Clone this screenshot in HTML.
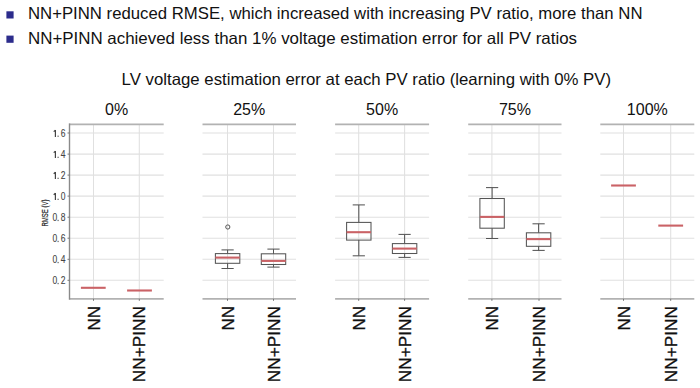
<!DOCTYPE html><html><head><meta charset="utf-8"><style>html,body{margin:0;padding:0;background:#fff;overflow:hidden}svg{display:block}</style></head><body><svg width="700" height="388" viewBox="0 0 700 388">
<rect width="700" height="388" fill="#fff"/>
<rect x="6.4" y="11.3" width="7.2" height="7.2" fill="#2c2c8c"/>
<rect x="6.4" y="35.6" width="7.2" height="7.2" fill="#2c2c8c"/>
<text x="28" y="19.3" font-family="Liberation Sans, sans-serif" font-size="16.5" textLength="614.5" lengthAdjust="spacingAndGlyphs" fill="#111">NN+PINN reduced RMSE, which increased with increasing PV ratio, more than NN</text>
<text x="28" y="43.6" font-family="Liberation Sans, sans-serif" font-size="16.5" textLength="549" lengthAdjust="spacingAndGlyphs" fill="#111">NN+PINN achieved less than 1% voltage estimation error for all PV ratios</text>
<text x="121.6" y="84.7" font-family="Liberation Sans, sans-serif" font-size="16.5" textLength="489.5" lengthAdjust="spacingAndGlyphs" fill="#111">LV voltage estimation error at each PV ratio (learning with 0% PV)</text>
<text x="116.6" y="115" font-family="Liberation Sans, sans-serif" font-size="16" text-anchor="middle" fill="#111">0%</text>
<line x1="69.5" y1="280.3" x2="163.7" y2="280.3" stroke="#e0e0e0" stroke-width="1.05"/>
<line x1="69.5" y1="259.3" x2="163.7" y2="259.3" stroke="#e0e0e0" stroke-width="1.05"/>
<line x1="69.5" y1="238.2" x2="163.7" y2="238.2" stroke="#e0e0e0" stroke-width="1.05"/>
<line x1="69.5" y1="217.2" x2="163.7" y2="217.2" stroke="#e0e0e0" stroke-width="1.05"/>
<line x1="69.5" y1="196.1" x2="163.7" y2="196.1" stroke="#e0e0e0" stroke-width="1.05"/>
<line x1="69.5" y1="175.1" x2="163.7" y2="175.1" stroke="#e0e0e0" stroke-width="1.05"/>
<line x1="69.5" y1="154.1" x2="163.7" y2="154.1" stroke="#e0e0e0" stroke-width="1.05"/>
<line x1="69.5" y1="133.0" x2="163.7" y2="133.0" stroke="#e0e0e0" stroke-width="1.05"/>
<line x1="93.5" y1="124.3" x2="93.5" y2="298.8" stroke="#e0e0e0" stroke-width="1.05"/>
<line x1="139.3" y1="124.3" x2="139.3" y2="298.8" stroke="#e0e0e0" stroke-width="1.05"/>
<line x1="69.5" y1="124.3" x2="163.7" y2="124.3" stroke="#b2b2b2" stroke-width="1.8"/>
<line x1="69.5" y1="298.8" x2="163.7" y2="298.8" stroke="#b2b2b2" stroke-width="1.8"/>
<line x1="93.5" y1="298.8" x2="93.5" y2="300.8" stroke="#777" stroke-width="1"/>
<line x1="139.3" y1="298.8" x2="139.3" y2="300.8" stroke="#777" stroke-width="1"/>
<text transform="translate(99.5,306) rotate(-90)" x="0" y="0" font-family="Liberation Sans, sans-serif" font-size="16.5" text-anchor="end" textLength="24.6" lengthAdjust="spacingAndGlyphs" fill="#111" stroke="#111" stroke-width="0.3">NN</text>
<text transform="translate(145.3,306) rotate(-90)" x="0" y="0" font-family="Liberation Sans, sans-serif" font-size="16.5" text-anchor="end" textLength="76.2" lengthAdjust="spacingAndGlyphs" fill="#111" stroke="#111" stroke-width="0.3">NN+PINN</text>
<text x="249.2" y="115" font-family="Liberation Sans, sans-serif" font-size="16" text-anchor="middle" fill="#111">25%</text>
<line x1="202.5" y1="280.3" x2="296.0" y2="280.3" stroke="#e0e0e0" stroke-width="1.05"/>
<line x1="202.5" y1="259.3" x2="296.0" y2="259.3" stroke="#e0e0e0" stroke-width="1.05"/>
<line x1="202.5" y1="238.2" x2="296.0" y2="238.2" stroke="#e0e0e0" stroke-width="1.05"/>
<line x1="202.5" y1="217.2" x2="296.0" y2="217.2" stroke="#e0e0e0" stroke-width="1.05"/>
<line x1="202.5" y1="196.1" x2="296.0" y2="196.1" stroke="#e0e0e0" stroke-width="1.05"/>
<line x1="202.5" y1="175.1" x2="296.0" y2="175.1" stroke="#e0e0e0" stroke-width="1.05"/>
<line x1="202.5" y1="154.1" x2="296.0" y2="154.1" stroke="#e0e0e0" stroke-width="1.05"/>
<line x1="202.5" y1="133.0" x2="296.0" y2="133.0" stroke="#e0e0e0" stroke-width="1.05"/>
<line x1="227.5" y1="124.3" x2="227.5" y2="298.8" stroke="#e0e0e0" stroke-width="1.05"/>
<line x1="273.5" y1="124.3" x2="273.5" y2="298.8" stroke="#e0e0e0" stroke-width="1.05"/>
<line x1="202.5" y1="124.3" x2="296.0" y2="124.3" stroke="#b2b2b2" stroke-width="1.8"/>
<line x1="202.5" y1="298.8" x2="296.0" y2="298.8" stroke="#b2b2b2" stroke-width="1.8"/>
<line x1="227.5" y1="298.8" x2="227.5" y2="300.8" stroke="#777" stroke-width="1"/>
<line x1="273.5" y1="298.8" x2="273.5" y2="300.8" stroke="#777" stroke-width="1"/>
<text transform="translate(233.5,306) rotate(-90)" x="0" y="0" font-family="Liberation Sans, sans-serif" font-size="16.5" text-anchor="end" textLength="24.6" lengthAdjust="spacingAndGlyphs" fill="#111" stroke="#111" stroke-width="0.3">NN</text>
<text transform="translate(279.5,306) rotate(-90)" x="0" y="0" font-family="Liberation Sans, sans-serif" font-size="16.5" text-anchor="end" textLength="76.2" lengthAdjust="spacingAndGlyphs" fill="#111" stroke="#111" stroke-width="0.3">NN+PINN</text>
<text x="382.1" y="115" font-family="Liberation Sans, sans-serif" font-size="16" text-anchor="middle" fill="#111">50%</text>
<line x1="335.1" y1="280.3" x2="429.1" y2="280.3" stroke="#e0e0e0" stroke-width="1.05"/>
<line x1="335.1" y1="259.3" x2="429.1" y2="259.3" stroke="#e0e0e0" stroke-width="1.05"/>
<line x1="335.1" y1="238.2" x2="429.1" y2="238.2" stroke="#e0e0e0" stroke-width="1.05"/>
<line x1="335.1" y1="217.2" x2="429.1" y2="217.2" stroke="#e0e0e0" stroke-width="1.05"/>
<line x1="335.1" y1="196.1" x2="429.1" y2="196.1" stroke="#e0e0e0" stroke-width="1.05"/>
<line x1="335.1" y1="175.1" x2="429.1" y2="175.1" stroke="#e0e0e0" stroke-width="1.05"/>
<line x1="335.1" y1="154.1" x2="429.1" y2="154.1" stroke="#e0e0e0" stroke-width="1.05"/>
<line x1="335.1" y1="133.0" x2="429.1" y2="133.0" stroke="#e0e0e0" stroke-width="1.05"/>
<line x1="358.7" y1="124.3" x2="358.7" y2="298.8" stroke="#e0e0e0" stroke-width="1.05"/>
<line x1="404.6" y1="124.3" x2="404.6" y2="298.8" stroke="#e0e0e0" stroke-width="1.05"/>
<line x1="335.1" y1="124.3" x2="429.1" y2="124.3" stroke="#b2b2b2" stroke-width="1.8"/>
<line x1="335.1" y1="298.8" x2="429.1" y2="298.8" stroke="#b2b2b2" stroke-width="1.8"/>
<line x1="358.7" y1="298.8" x2="358.7" y2="300.8" stroke="#777" stroke-width="1"/>
<line x1="404.6" y1="298.8" x2="404.6" y2="300.8" stroke="#777" stroke-width="1"/>
<text transform="translate(364.7,306) rotate(-90)" x="0" y="0" font-family="Liberation Sans, sans-serif" font-size="16.5" text-anchor="end" textLength="24.6" lengthAdjust="spacingAndGlyphs" fill="#111" stroke="#111" stroke-width="0.3">NN</text>
<text transform="translate(410.6,306) rotate(-90)" x="0" y="0" font-family="Liberation Sans, sans-serif" font-size="16.5" text-anchor="end" textLength="76.2" lengthAdjust="spacingAndGlyphs" fill="#111" stroke="#111" stroke-width="0.3">NN+PINN</text>
<text x="514.9" y="115" font-family="Liberation Sans, sans-serif" font-size="16" text-anchor="middle" fill="#111">75%</text>
<line x1="468.2" y1="280.3" x2="561.5" y2="280.3" stroke="#e0e0e0" stroke-width="1.05"/>
<line x1="468.2" y1="259.3" x2="561.5" y2="259.3" stroke="#e0e0e0" stroke-width="1.05"/>
<line x1="468.2" y1="238.2" x2="561.5" y2="238.2" stroke="#e0e0e0" stroke-width="1.05"/>
<line x1="468.2" y1="217.2" x2="561.5" y2="217.2" stroke="#e0e0e0" stroke-width="1.05"/>
<line x1="468.2" y1="196.1" x2="561.5" y2="196.1" stroke="#e0e0e0" stroke-width="1.05"/>
<line x1="468.2" y1="175.1" x2="561.5" y2="175.1" stroke="#e0e0e0" stroke-width="1.05"/>
<line x1="468.2" y1="154.1" x2="561.5" y2="154.1" stroke="#e0e0e0" stroke-width="1.05"/>
<line x1="468.2" y1="133.0" x2="561.5" y2="133.0" stroke="#e0e0e0" stroke-width="1.05"/>
<line x1="491.9" y1="124.3" x2="491.9" y2="298.8" stroke="#e0e0e0" stroke-width="1.05"/>
<line x1="539.0" y1="124.3" x2="539.0" y2="298.8" stroke="#e0e0e0" stroke-width="1.05"/>
<line x1="468.2" y1="124.3" x2="561.5" y2="124.3" stroke="#b2b2b2" stroke-width="1.8"/>
<line x1="468.2" y1="298.8" x2="561.5" y2="298.8" stroke="#b2b2b2" stroke-width="1.8"/>
<line x1="491.9" y1="298.8" x2="491.9" y2="300.8" stroke="#777" stroke-width="1"/>
<line x1="539.0" y1="298.8" x2="539.0" y2="300.8" stroke="#777" stroke-width="1"/>
<text transform="translate(497.9,306) rotate(-90)" x="0" y="0" font-family="Liberation Sans, sans-serif" font-size="16.5" text-anchor="end" textLength="24.6" lengthAdjust="spacingAndGlyphs" fill="#111" stroke="#111" stroke-width="0.3">NN</text>
<text transform="translate(545.0,306) rotate(-90)" x="0" y="0" font-family="Liberation Sans, sans-serif" font-size="16.5" text-anchor="end" textLength="76.2" lengthAdjust="spacingAndGlyphs" fill="#111" stroke="#111" stroke-width="0.3">NN+PINN</text>
<text x="647.3" y="115" font-family="Liberation Sans, sans-serif" font-size="16" text-anchor="middle" fill="#111">100%</text>
<line x1="600.3" y1="280.3" x2="694.3" y2="280.3" stroke="#e0e0e0" stroke-width="1.05"/>
<line x1="600.3" y1="259.3" x2="694.3" y2="259.3" stroke="#e0e0e0" stroke-width="1.05"/>
<line x1="600.3" y1="238.2" x2="694.3" y2="238.2" stroke="#e0e0e0" stroke-width="1.05"/>
<line x1="600.3" y1="217.2" x2="694.3" y2="217.2" stroke="#e0e0e0" stroke-width="1.05"/>
<line x1="600.3" y1="196.1" x2="694.3" y2="196.1" stroke="#e0e0e0" stroke-width="1.05"/>
<line x1="600.3" y1="175.1" x2="694.3" y2="175.1" stroke="#e0e0e0" stroke-width="1.05"/>
<line x1="600.3" y1="154.1" x2="694.3" y2="154.1" stroke="#e0e0e0" stroke-width="1.05"/>
<line x1="600.3" y1="133.0" x2="694.3" y2="133.0" stroke="#e0e0e0" stroke-width="1.05"/>
<line x1="623.5" y1="124.3" x2="623.5" y2="298.8" stroke="#e0e0e0" stroke-width="1.05"/>
<line x1="670.7" y1="124.3" x2="670.7" y2="298.8" stroke="#e0e0e0" stroke-width="1.05"/>
<line x1="600.3" y1="124.3" x2="694.3" y2="124.3" stroke="#b2b2b2" stroke-width="1.8"/>
<line x1="600.3" y1="298.8" x2="694.3" y2="298.8" stroke="#b2b2b2" stroke-width="1.8"/>
<line x1="623.5" y1="298.8" x2="623.5" y2="300.8" stroke="#777" stroke-width="1"/>
<line x1="670.7" y1="298.8" x2="670.7" y2="300.8" stroke="#777" stroke-width="1"/>
<text transform="translate(629.5,306) rotate(-90)" x="0" y="0" font-family="Liberation Sans, sans-serif" font-size="16.5" text-anchor="end" textLength="24.6" lengthAdjust="spacingAndGlyphs" fill="#111" stroke="#111" stroke-width="0.3">NN</text>
<text transform="translate(676.7,306) rotate(-90)" x="0" y="0" font-family="Liberation Sans, sans-serif" font-size="16.5" text-anchor="end" textLength="76.2" lengthAdjust="spacingAndGlyphs" fill="#111" stroke="#111" stroke-width="0.3">NN+PINN</text>
<line x1="69.5" y1="123.39999999999999" x2="69.5" y2="299.7" stroke="#8a8a8a" stroke-width="1.4"/>
<line x1="67.5" y1="280.3" x2="69.5" y2="280.3" stroke="#777" stroke-width="1"/>
<g transform="translate(0,284.20) scale(0.2125,0.25)" font-family="Liberation Sans, sans-serif" font-size="40" fill="#444" stroke="#444" stroke-width="0.4"><text x="247.06" y="0">0</text></g>
<g transform="translate(0,284.20) scale(0.2125,0.25)" font-family="Liberation Sans, sans-serif" font-size="40" fill="#444" stroke="#444" stroke-width="0.4"><text x="286.12" y="0">2</text></g>
<rect x="57.5" y="282.9" width="1.2" height="1.3" fill="#666"/>
<line x1="67.5" y1="259.3" x2="69.5" y2="259.3" stroke="#777" stroke-width="1"/>
<g transform="translate(0,263.16) scale(0.2125,0.25)" font-family="Liberation Sans, sans-serif" font-size="40" fill="#444" stroke="#444" stroke-width="0.4"><text x="247.06" y="0">0</text></g>
<g transform="translate(0,263.16) scale(0.2125,0.25)" font-family="Liberation Sans, sans-serif" font-size="40" fill="#444" stroke="#444" stroke-width="0.4"><text x="286.12" y="0">4</text></g>
<rect x="57.5" y="261.9" width="1.2" height="1.3" fill="#666"/>
<line x1="67.5" y1="238.2" x2="69.5" y2="238.2" stroke="#777" stroke-width="1"/>
<g transform="translate(0,242.12) scale(0.2125,0.25)" font-family="Liberation Sans, sans-serif" font-size="40" fill="#444" stroke="#444" stroke-width="0.4"><text x="247.06" y="0">0</text></g>
<g transform="translate(0,242.12) scale(0.2125,0.25)" font-family="Liberation Sans, sans-serif" font-size="40" fill="#444" stroke="#444" stroke-width="0.4"><text x="286.12" y="0">6</text></g>
<rect x="57.5" y="240.8" width="1.2" height="1.3" fill="#666"/>
<line x1="67.5" y1="217.2" x2="69.5" y2="217.2" stroke="#777" stroke-width="1"/>
<g transform="translate(0,221.08) scale(0.2125,0.25)" font-family="Liberation Sans, sans-serif" font-size="40" fill="#444" stroke="#444" stroke-width="0.4"><text x="247.06" y="0">0</text></g>
<g transform="translate(0,221.08) scale(0.2125,0.25)" font-family="Liberation Sans, sans-serif" font-size="40" fill="#444" stroke="#444" stroke-width="0.4"><text x="286.12" y="0">8</text></g>
<rect x="57.5" y="219.8" width="1.2" height="1.3" fill="#666"/>
<line x1="67.5" y1="196.1" x2="69.5" y2="196.1" stroke="#777" stroke-width="1"/>
<path d="M55.4 193.04 L55.4 200.04 M55.4 193.24 L53.7 194.74" stroke="#444" stroke-width="1.2" fill="none"/>
<g transform="translate(0,200.04) scale(0.2125,0.25)" font-family="Liberation Sans, sans-serif" font-size="40" fill="#444" stroke="#444" stroke-width="0.4"><text x="286.12" y="0">0</text></g>
<rect x="57.5" y="198.7" width="1.2" height="1.3" fill="#666"/>
<line x1="67.5" y1="175.1" x2="69.5" y2="175.1" stroke="#777" stroke-width="1"/>
<path d="M55.4 172.00 L55.4 179.00 M55.4 172.20 L53.7 173.70" stroke="#444" stroke-width="1.2" fill="none"/>
<g transform="translate(0,179.00) scale(0.2125,0.25)" font-family="Liberation Sans, sans-serif" font-size="40" fill="#444" stroke="#444" stroke-width="0.4"><text x="286.12" y="0">2</text></g>
<rect x="57.5" y="177.7" width="1.2" height="1.3" fill="#666"/>
<line x1="67.5" y1="154.1" x2="69.5" y2="154.1" stroke="#777" stroke-width="1"/>
<path d="M55.4 150.96 L55.4 157.96 M55.4 151.16 L53.7 152.66" stroke="#444" stroke-width="1.2" fill="none"/>
<g transform="translate(0,157.96) scale(0.2125,0.25)" font-family="Liberation Sans, sans-serif" font-size="40" fill="#444" stroke="#444" stroke-width="0.4"><text x="286.12" y="0">4</text></g>
<rect x="57.5" y="156.7" width="1.2" height="1.3" fill="#666"/>
<line x1="67.5" y1="133.0" x2="69.5" y2="133.0" stroke="#777" stroke-width="1"/>
<path d="M55.4 129.92 L55.4 136.92 M55.4 130.12 L53.7 131.62" stroke="#444" stroke-width="1.2" fill="none"/>
<g transform="translate(0,136.92) scale(0.2125,0.25)" font-family="Liberation Sans, sans-serif" font-size="40" fill="#444" stroke="#444" stroke-width="0.4"><text x="286.12" y="0">6</text></g>
<rect x="57.5" y="135.6" width="1.2" height="1.3" fill="#666"/>
<text transform="translate(47.9,226.6) rotate(-90)" font-family="Liberation Sans, sans-serif" font-size="8.2" textLength="27" lengthAdjust="spacingAndGlyphs" fill="#222" stroke="#222" stroke-width="0.2">RMSE (V)</text>
<line x1="80.89999999999999" y1="287.8" x2="105.7" y2="287.8" stroke="#ca6266" stroke-width="2.1"/>
<line x1="127.1" y1="290.5" x2="151.9" y2="290.5" stroke="#ca6266" stroke-width="2.1"/>
<line x1="227.6" y1="249.9" x2="227.6" y2="253.6" stroke="#555" stroke-width="1.05"/><line x1="227.6" y1="263.3" x2="227.6" y2="268.5" stroke="#555" stroke-width="1.05"/><line x1="221.5" y1="249.9" x2="233.7" y2="249.9" stroke="#555" stroke-width="1.05"/><line x1="221.5" y1="268.5" x2="233.7" y2="268.5" stroke="#555" stroke-width="1.05"/><rect x="215.4" y="253.6" width="24.4" height="9.700000000000017" fill="none" stroke="#555" stroke-width="1.05"/><line x1="215.4" y1="257.6" x2="239.79999999999998" y2="257.6" stroke="#ca6266" stroke-width="2.1"/>
<circle cx="227.8" cy="227" r="2.1" fill="none" stroke="#555" stroke-width="1"/>
<line x1="273.5" y1="249.1" x2="273.5" y2="253.8" stroke="#555" stroke-width="1.05"/><line x1="273.5" y1="264.5" x2="273.5" y2="267.1" stroke="#555" stroke-width="1.05"/><line x1="267.4" y1="249.1" x2="279.6" y2="249.1" stroke="#555" stroke-width="1.05"/><line x1="267.4" y1="267.1" x2="279.6" y2="267.1" stroke="#555" stroke-width="1.05"/><rect x="261.3" y="253.8" width="24.4" height="10.699999999999989" fill="none" stroke="#555" stroke-width="1.05"/><line x1="261.3" y1="260.9" x2="285.7" y2="260.9" stroke="#ca6266" stroke-width="2.1"/>
<line x1="358.8" y1="204.9" x2="358.8" y2="222.4" stroke="#555" stroke-width="1.05"/><line x1="358.8" y1="240.1" x2="358.8" y2="255.8" stroke="#555" stroke-width="1.05"/><line x1="352.7" y1="204.9" x2="364.90000000000003" y2="204.9" stroke="#555" stroke-width="1.05"/><line x1="352.7" y1="255.8" x2="364.90000000000003" y2="255.8" stroke="#555" stroke-width="1.05"/><rect x="346.6" y="222.4" width="24.4" height="17.69999999999999" fill="none" stroke="#555" stroke-width="1.05"/><line x1="346.6" y1="232.2" x2="371.0" y2="232.2" stroke="#ca6266" stroke-width="2.1"/>
<line x1="404.6" y1="234.4" x2="404.6" y2="243.6" stroke="#555" stroke-width="1.05"/><line x1="404.6" y1="253.5" x2="404.6" y2="257.4" stroke="#555" stroke-width="1.05"/><line x1="398.5" y1="234.4" x2="410.70000000000005" y2="234.4" stroke="#555" stroke-width="1.05"/><line x1="398.5" y1="257.4" x2="410.70000000000005" y2="257.4" stroke="#555" stroke-width="1.05"/><rect x="392.40000000000003" y="243.6" width="24.4" height="9.900000000000006" fill="none" stroke="#555" stroke-width="1.05"/><line x1="392.40000000000003" y1="248.6" x2="416.8" y2="248.6" stroke="#ca6266" stroke-width="2.1"/>
<line x1="492.1" y1="187.6" x2="492.1" y2="198.5" stroke="#555" stroke-width="1.05"/><line x1="492.1" y1="228.2" x2="492.1" y2="238.5" stroke="#555" stroke-width="1.05"/><line x1="486.0" y1="187.6" x2="498.20000000000005" y2="187.6" stroke="#555" stroke-width="1.05"/><line x1="486.0" y1="238.5" x2="498.20000000000005" y2="238.5" stroke="#555" stroke-width="1.05"/><rect x="479.90000000000003" y="198.5" width="24.4" height="29.69999999999999" fill="none" stroke="#555" stroke-width="1.05"/><line x1="479.90000000000003" y1="216.9" x2="504.3" y2="216.9" stroke="#ca6266" stroke-width="2.1"/>
<line x1="538.6" y1="223.8" x2="538.6" y2="232.8" stroke="#555" stroke-width="1.05"/><line x1="538.6" y1="246.3" x2="538.6" y2="250.4" stroke="#555" stroke-width="1.05"/><line x1="532.5" y1="223.8" x2="544.7" y2="223.8" stroke="#555" stroke-width="1.05"/><line x1="532.5" y1="250.4" x2="544.7" y2="250.4" stroke="#555" stroke-width="1.05"/><rect x="526.4" y="232.8" width="24.4" height="13.5" fill="none" stroke="#555" stroke-width="1.05"/><line x1="526.4" y1="239.1" x2="550.8000000000001" y2="239.1" stroke="#ca6266" stroke-width="2.1"/>
<line x1="611.1" y1="185.5" x2="635.9" y2="185.5" stroke="#ca6266" stroke-width="2.1"/>
<line x1="658.3000000000001" y1="225.6" x2="683.1" y2="225.6" stroke="#ca6266" stroke-width="2.1"/>
</svg></body></html>
